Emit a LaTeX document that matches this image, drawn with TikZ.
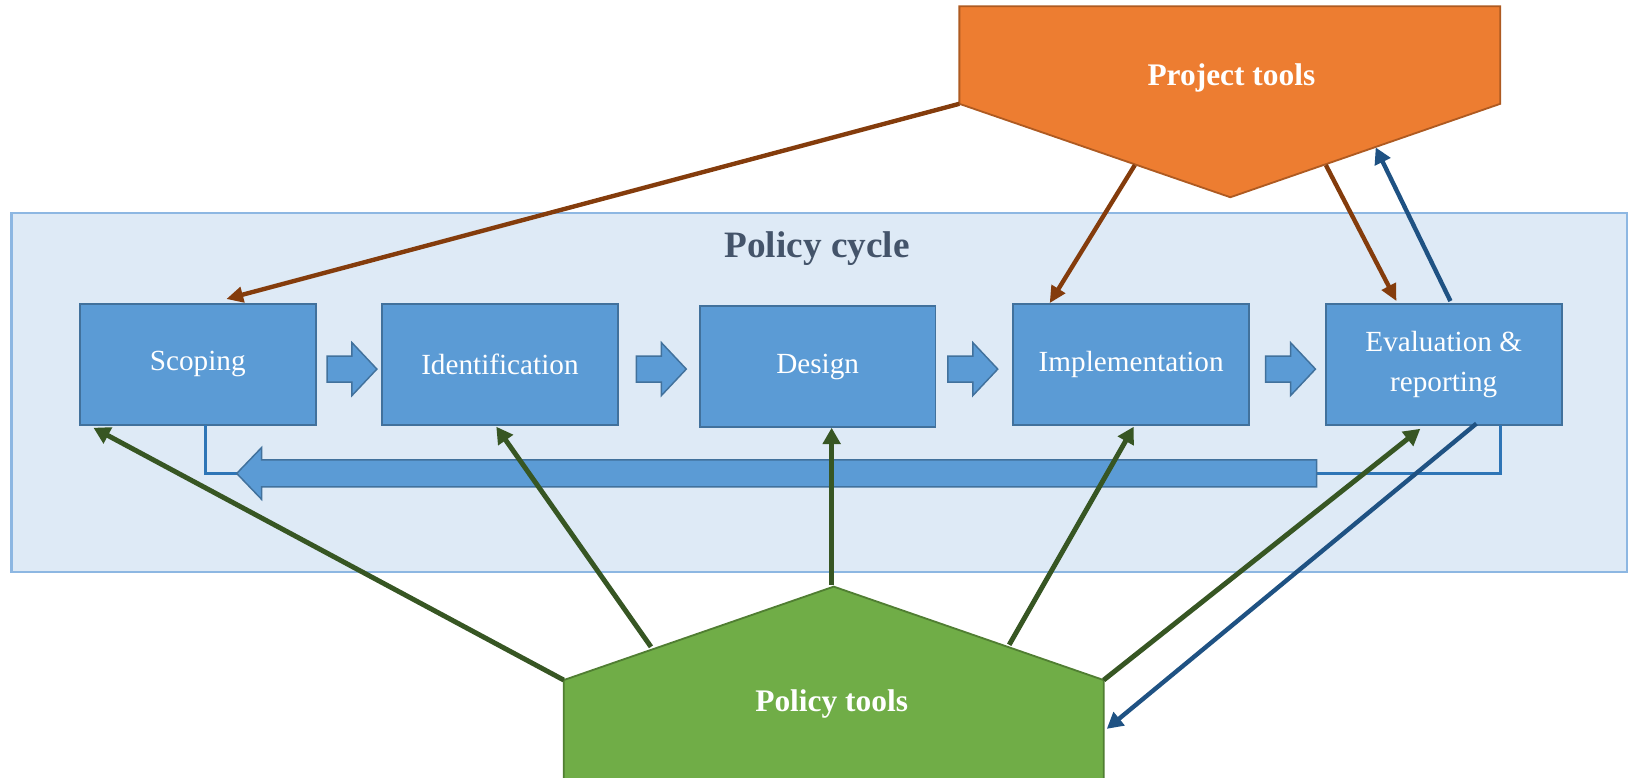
\documentclass[tikz,border=0pt]{standalone}
\usepackage{fontspec}
\setmainfont{Liberation Serif}
\usetikzlibrary{arrows.meta}
\definecolor{panelfill}{HTML}{DEEAF6}
\definecolor{paneldraw}{HTML}{8DB7E2}
\definecolor{boxfill}{HTML}{5B9BD5}
\definecolor{boxdraw}{HTML}{41719C}
\definecolor{connblue}{HTML}{2E75B6}
\definecolor{navy}{HTML}{1F5283}
\definecolor{brownarr}{HTML}{843C0C}
\definecolor{greenarr}{HTML}{375623}
\definecolor{projfill}{HTML}{ED7D31}
\definecolor{projdraw}{HTML}{AE5A21}
\definecolor{polfill}{HTML}{70AD47}
\definecolor{poldraw}{HTML}{507E32}
\definecolor{titlecol}{HTML}{44546A}
\begin{document}
\begin{tikzpicture}[x=0.01cm,y=-0.01cm,
  panel/.style={fill=panelfill,draw=paneldraw,line width=0.7pt},
  stagebox/.style={fill=boxfill,draw=boxdraw,line width=0.5pt,minimum width=2.27cm,minimum height=1.16cm,inner sep=0pt,text=white,align=center,font=\fontsize{8}{10.8}\selectfont},
  smallarrow/.style={fill=boxfill,draw=boxdraw,line width=0.4pt},
  bigarrow/.style={fill=boxfill,draw=boxdraw,line width=0.4pt},
  connline/.style={draw=connblue,line width=0.9pt},
  projshape/.style={fill=projfill,draw=projdraw,line width=0.5pt},
  polshape/.style={fill=polfill,draw=poldraw,line width=0.5pt},
  tooltext/.style={text=white,font=\bfseries\fontsize{8.6}{10}\selectfont},
  titletext/.style={text=titlecol,font=\bfseries\fontsize{10.2}{12}\selectfont},
  brownarrow/.style={draw=brownarr,line width=1.2pt,-{Triangle[length=4.6pt,width=4.2pt]}},
  greenarrow/.style={draw=greenarr,line width=1.35pt,-{Triangle[length=4.5pt,width=4.8pt]}},
  navyarrow/.style={draw=navy,line width=1.2pt,-{Triangle[length=4.4pt,width=4.6pt]}}
]
\useasboundingbox (0,0) rectangle (1568,749);
% panel
\path[panel] (11,205) rectangle (1567,551);
\node[titletext] (title) at (787,239) {Policy cycle};
% stages
\node[stagebox] (scoping) at (190.5,351) {Scoping};
\node[stagebox] (ident) at (481.5,351) {Identification};
\node[stagebox] (design) at (787.5,353) {Design};
\node[stagebox] (impl) at (1089.5,351) {Implementation};
\node[stagebox] (eval) at (1390.5,351) {Evaluation \&\\reporting};
% small block arrows
\foreach \xa in {315,613,913,1219}{
  \path[smallarrow] (\xa,343) -- ({\xa+24},343) -- ({\xa+24},330) -- ({\xa+48},355.5)
     -- ({\xa+24},381) -- ({\xa+24},368) -- (\xa,368) -- cycle;
}
% feedback connectors and big arrow
\coordinate (fbtip) at (228,456);
\coordinate (fbend) at (1268,456);
\coordinate (scout) at (198,409.5);
\coordinate (evout) at (1445,409.5);
\draw[connline] (scout) |- (fbtip);
\draw[connline] (evout) |- (fbend);
\path[bigarrow] (1268,443) -- (252,443) -- (252,431) -- (fbtip) -- (252,481) -- (252,469) -- (1268,469) -- cycle;
% project tools
\path[projshape] (924,6) -- (1445,6) -- (1445,100) -- (1185,190) -- (924,100) -- cycle;
\node[tooltext] (projlabel) at (1186,75) {Project tools};
% policy tools
\path[polshape] (803,565) -- (1063,655) -- (1063,760) -- (543,760) -- (543,655) -- cycle;
\node[tooltext] (pollabel) at (801,678) {Policy tools};
% attachment coordinates
\coordinate (pjA) at (924,100);
\coordinate (pjB) at (1093,159);
\coordinate (pjC) at (1277,159);
\coordinate (pjD) at (1325,142);
\coordinate (plA) at (543,655);
\coordinate (plB) at (627,623);
\coordinate (plC) at (801,563);
\coordinate (plD) at (972,621);
\coordinate (plE) at (1063,655);
\coordinate (plF) at (1066,702);
\coordinate (scT) at (218,288);
\coordinate (imT) at (1011,292);
\coordinate (evT) at (1345,290);
\coordinate (evU) at (1397,290);
\coordinate (scB) at (90,412);
\coordinate (idB) at (478,411);
\coordinate (deB) at (801,412);
\coordinate (imB) at (1092,411);
\coordinate (evB) at (1368,413);
\coordinate (evD) at (1422,408);
% arrows
\draw[brownarrow] (pjA) -- (scT);
\draw[brownarrow] (pjB) -- (imT);
\draw[brownarrow] (pjC) -- (evT);
\draw[navyarrow] (evU) -- (pjD);
\draw[greenarrow] (plA) -- (scB);
\draw[greenarrow] (plB) -- (idB);
\draw[greenarrow] (plC) -- (deB);
\draw[greenarrow] (plD) -- (imB);
\draw[greenarrow] (plE) -- (evB);
\draw[navyarrow] (evD) -- (plF);
\end{tikzpicture}
\end{document}
